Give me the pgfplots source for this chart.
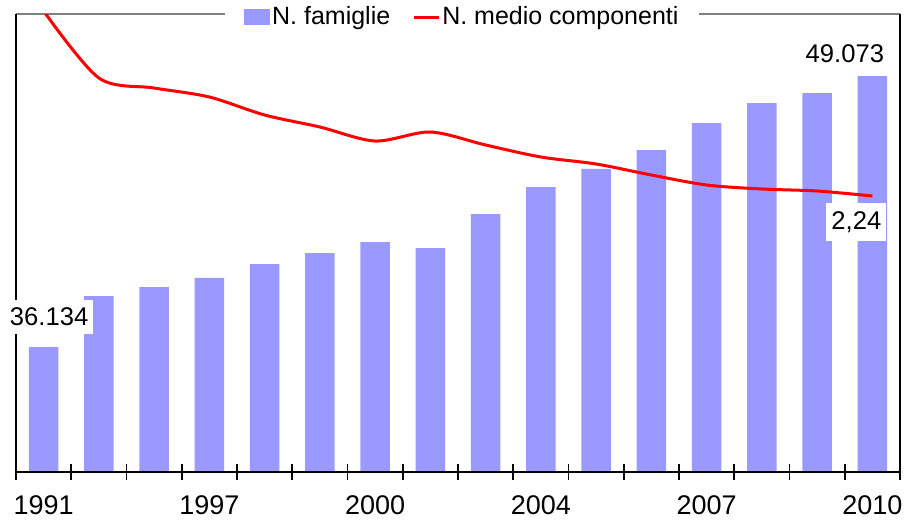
\documentclass[border=0pt]{standalone}
\usepackage{pgfplots}
\pgfplotsset{compat=1.18}
\usepackage{fontspec}
\setmainfont{Liberation Sans}
\definecolor{barblue}{HTML}{9999FF}
\definecolor{topgray}{HTML}{808080}

\begin{document}
\begin{tikzpicture}
\pgfplotsset{common/.style={
  width=442pt, height=229pt, scale only axis,
  xmin=-0.5, xmax=15.5,
}}
\begin{axis}[common, name=ax,
  ymin=30166, ymax=52033,
  axis line style={draw=none},
  ytick=\empty,
  xtick={0,...,15},
  xticklabels={1991,,,1997,,,2000,,,2004,,,2007,,,2010},
  xtick pos=bottom,
  major tick length=0pt,
  minor xtick={-0.5,0.5,...,15.5},
  minor tick length=8pt, tick align=center,
  minor tick style={black, line width=0.8pt},
  xticklabel style={font=\fontsize{13.5}{16}\selectfont, yshift=-8.5pt},
  clip=false,
]
\addplot[ybar, bar width=0.53, fill=barblue, draw=none] coordinates {
(0,36134) (1,38569) (2,38999) (3,39429) (4,40097) (5,40622) (6,41147) (7,40861)
(8,42484) (9,43773) (10,44633) (11,45540) (12,46829) (13,47784) (14,48261) (15,49073)};
\draw[topgray, line width=0.7pt] (rel axis cs:0,1) -- (rel axis cs:1,1);
\draw[black, line width=1pt] (rel axis cs:0,1) -- (rel axis cs:0,0) -- (rel axis cs:1,0) -- (rel axis cs:1,1);
\node[fill=white, inner xsep=2.5pt, inner ysep=4pt, font=\fontsize{12.8}{15}\selectfont, xshift=2.75pt, yshift=15pt] at (axis cs:0,36134) {36.134};
\node[inner sep=1pt, font=\fontsize{12.8}{15}\selectfont, xshift=-13.75pt, yshift=11pt] at (axis cs:15,49073) {49.073};
\end{axis}
\begin{axis}[common,
  ymin=1.688, ymax=2.604,
  hide axis,
  legend columns=2,
  legend style={at={(0.505,1)}, anchor=center, yshift=-1.5pt, draw=none, fill=white,
    inner xsep=9.5pt, inner ysep=2pt,
    font=\fontsize{12.5}{15}\selectfont,
    nodes={inner xsep=1pt, inner ysep=1pt},
    /tikz/every even column/.append style={column sep=10pt}},
]
\addlegendimage{legend image code/.code={\fill[barblue] (0pt,-3.75pt) rectangle (12.5pt,3.75pt);}}
\addlegendentry{N. famiglie}
\addplot[red, line width=1.5pt, smooth,
  legend image code/.code={\draw[red, line width=1.5pt] (0pt,0pt) -- (12.5pt,0pt);}] coordinates {
(0,2.61) (1,2.476) (2,2.456) (3,2.438) (4,2.402) (5,2.378) (6,2.350) (7,2.368)
(8,2.342) (9,2.318) (10,2.304) (11,2.282) (12,2.262) (13,2.254) (14,2.250) (15,2.24)};
\addlegendentry{N. medio componenti}
\node[fill=white, inner xsep=2.5pt, inner ysep=4pt, font=\fontsize{12.8}{15}\selectfont, xshift=-8pt, yshift=-13pt] at (axis cs:15,2.24) {2,24};
\end{axis}
\pgfresetboundingbox
\path[use as bounding box] ([xshift=-8pt,yshift=-25pt]ax.south west) rectangle ([xshift=2pt,yshift=7pt]ax.north east);
\end{tikzpicture}
\end{document}
